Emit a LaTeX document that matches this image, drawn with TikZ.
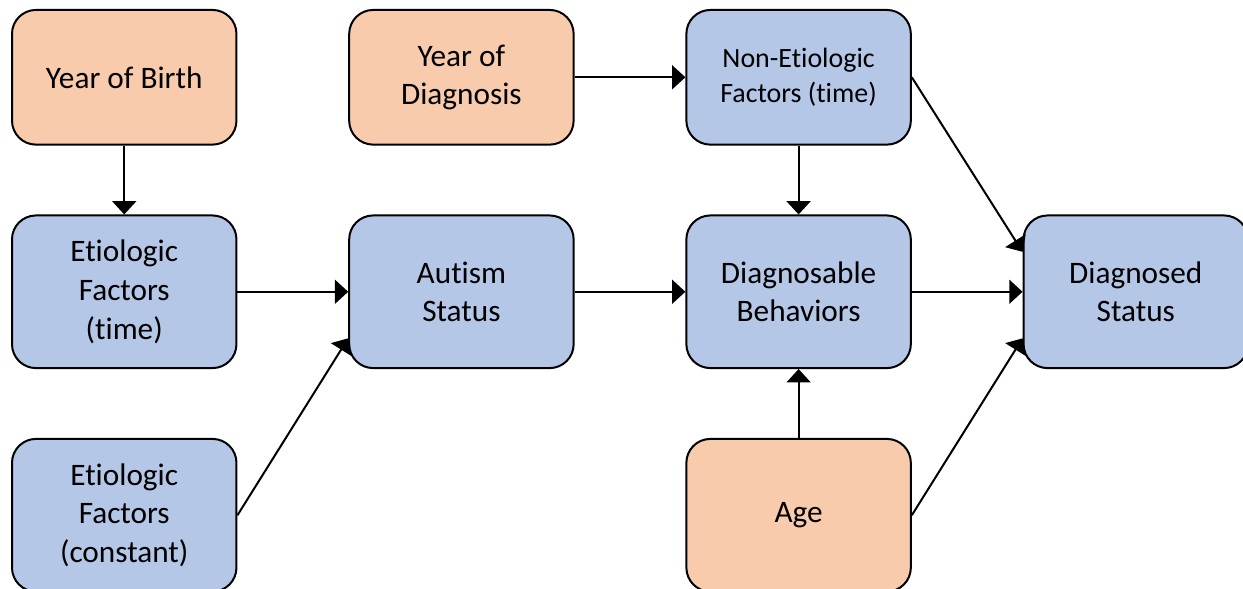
\documentclass[tikz,border=0pt]{standalone}
\usepackage{fontspec}
\setmainfont{Carlito}[RawFeature={-liga}]
\usetikzlibrary{positioning,arrows.meta}
\definecolor{peach}{HTML}{F8CBAD}
\definecolor{steel}{HTML}{B4C7E7}

\begin{document}
\begin{tikzpicture}[
    box/.style={draw, line width=1.5pt, rounded corners=18pt, align=center,
        minimum width=168.75pt, font=\fontsize{23.5}{29}\selectfont},
    topsize/.style={minimum height=101.25pt},
    midsize/.style={minimum height=114.75pt},
    orangebox/.style={box, fill=peach},
    bluebox/.style={box, fill=steel},
    arr/.style={-{Triangle[length=10pt, width=18pt]}, line width=1.5pt},
    node distance=51.75pt and 83.25pt,
]
    \useasboundingbox (-93.4pt,58.1pt) rectangle (841.1pt,-384.4pt);

    \node [orangebox, topsize] (birth) {Year of Birth};
    \node [bluebox, midsize, below=of birth] (etime) {Etiologic\\Factors\\(time)};
    \node [bluebox, midsize, below=of etime] (econst) {Etiologic\\Factors\\(constant)};

    \node [bluebox, midsize, right=of etime] (autism) {Autism\\Status};
    \node [orangebox, topsize, above=of autism] (diagyear) {Year of\\Diagnosis};

    \node [bluebox, midsize, right=of autism] (behav) {Diagnosable\\Behaviors};
    \node [bluebox, topsize, above=of behav, font=\fontsize{21}{26}\selectfont] (nonetio) {Non-Etiologic\\Factors (time)};
    \node [orangebox, midsize, below=of behav] (age) {Age};

    \node [bluebox, midsize, right=of behav] (status) {Diagnosed\\Status};

    % arrows
    \draw [arr] (birth) -- (etime);
    \draw [arr] (etime) -- (autism);
    \draw [arr] (econst.east) -- ([yshift=-35pt]autism.west);
    \draw [arr] (diagyear) -- (nonetio);
    \draw [arr] (autism) -- (behav);
    \draw [arr] (nonetio) -- (behav);
    \draw [arr] (age) -- (behav);
    \draw [arr] (behav) -- (status);
    \draw [arr] (nonetio.east) -- ([yshift=30pt]status.west);
    \draw [arr] (age.east) -- ([yshift=-35pt]status.west);
\end{tikzpicture}
\end{document}
